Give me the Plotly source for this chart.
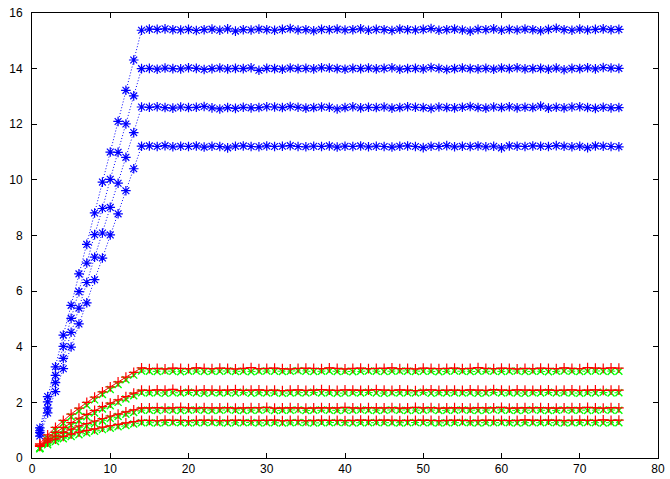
import plotly.graph_objects as go

# Sample index (1..75) shared by every series
steps = list(range(1, 76))

# Linear-growth runs that saturate at step 14
blue_a = [1.08, 2.21, 3.28, 4.42, 5.49, 6.62, 7.68, 8.81, 9.92, 11.00, 12.10, 13.22, 14.31, 15.38,
          15.42, 15.41, 15.43, 15.40, 15.39, 15.41, 15.37, 15.40, 15.42, 15.38,
          15.43, 15.35, 15.40, 15.39, 15.42, 15.40, 15.38, 15.41, 15.44, 15.39,
          15.40, 15.36, 15.41, 15.40, 15.42, 15.39, 15.40, 15.43, 15.38, 15.41,
          15.40, 15.37, 15.42, 15.40, 15.39, 15.41, 15.44, 15.38, 15.40, 15.42,
          15.39, 15.35, 15.41, 15.40, 15.43, 15.38, 15.41, 15.39, 15.42, 15.40,
          15.36, 15.41, 15.45, 15.40, 15.38, 15.42, 15.39, 15.41, 15.43, 15.40,
          15.41]
blue_b = [0.98, 2.02, 2.97, 4.01, 5.02, 5.98, 7.01, 8.03, 8.97, 10.02, 10.99, 12.01, 13.02, 14.00,
          14.01, 13.98, 14.02, 14.00, 13.99, 14.03, 14.01, 13.97, 14.00, 14.02,
          13.99, 14.01, 14.00, 14.03, 13.94, 14.01, 14.00, 13.98, 14.02, 14.00,
          14.01, 13.99, 14.03, 14.02, 14.00, 13.98, 14.01, 14.00, 14.02, 13.99,
          14.01, 14.03, 13.98, 14.00, 14.01, 13.99, 14.04, 14.01, 13.97, 14.00,
          14.02, 14.00, 13.99, 14.01, 13.98, 14.02, 14.00, 14.03, 13.99, 14.00,
          14.01, 13.98, 14.02, 13.96, 14.01, 14.00, 14.03, 13.99, 14.04, 14.02,
          14.01]
blue_c = [0.91, 1.79, 2.71, 3.58, 4.52, 5.39, 6.31, 7.22, 8.09, 9.01, 9.88, 10.81, 11.70, 12.62,
          12.61, 12.63, 12.60, 12.58, 12.62, 12.60, 12.61, 12.64, 12.59, 12.55,
          12.60, 12.57, 12.61, 12.59, 12.60, 12.63, 12.62, 12.60, 12.64, 12.61,
          12.58, 12.60, 12.62, 12.61, 12.55, 12.60, 12.63, 12.59, 12.61, 12.60,
          12.62, 12.58, 12.60, 12.63, 12.61, 12.60, 12.57, 12.62, 12.60, 12.59,
          12.61, 12.64, 12.60, 12.58, 12.62, 12.60, 12.63, 12.59, 12.61, 12.60,
          12.65, 12.58, 12.61, 12.59, 12.62, 12.63, 12.60, 12.57, 12.61, 12.59,
          12.60]
blue_d = [0.79, 1.62, 2.39, 3.21, 3.99, 4.82, 5.58, 6.41, 7.19, 8.02, 8.78, 9.61, 10.40, 11.21,
          11.22, 11.20, 11.23, 11.19, 11.21, 11.20, 11.22, 11.18, 11.21, 11.20,
          11.15, 11.21, 11.22, 11.20, 11.19, 11.22, 11.20, 11.21, 11.23, 11.20,
          11.19, 11.21, 11.20, 11.22, 11.18, 11.21, 11.20, 11.22, 11.19, 11.21,
          11.20, 11.18, 11.21, 11.22, 11.20, 11.16, 11.21, 11.20, 11.23, 11.19,
          11.21, 11.20, 11.22, 11.19, 11.21, 11.15, 11.22, 11.21, 11.20, 11.22,
          11.21, 11.20, 11.23, 11.21, 11.19, 11.21, 11.16, 11.22, 11.21, 11.20,
          11.19]

# Sub-linear runs (red: measured, green: model)
red_a = [0.51, 0.83, 1.10, 1.35, 1.58, 1.79, 2.00, 2.19, 2.38, 2.56, 2.74, 2.91, 3.08, 3.24,
         3.21, 3.22, 3.20, 3.23, 3.22, 3.21, 3.24, 3.22, 3.21, 3.23,
         3.22, 3.20, 3.22, 3.25, 3.21, 3.22, 3.23, 3.21, 3.20, 3.22,
         3.23, 3.22, 3.21, 3.24, 3.22, 3.20, 3.22, 3.23, 3.21, 3.22,
         3.22, 3.24, 3.21, 3.22, 3.20, 3.23, 3.22, 3.21, 3.22, 3.23,
         3.21, 3.22, 3.25, 3.22, 3.21, 3.23, 3.22, 3.20, 3.22, 3.21,
         3.23, 3.22, 3.21, 3.24, 3.22, 3.21, 3.25, 3.23, 3.22, 3.24,
         3.23]
green_a = [0.34, 0.72, 1.00, 1.25, 1.48, 1.69, 1.90, 2.09, 2.28, 2.46, 2.64, 2.81, 2.98, 3.13,
           3.12, 3.11, 3.13, 3.12, 3.10, 3.12, 3.13, 3.11, 3.12, 3.12,
           3.13, 3.11, 3.12, 3.10, 3.12, 3.13, 3.12, 3.11, 3.12, 3.14,
           3.12, 3.11, 3.12, 3.13, 3.11, 3.12, 3.10, 3.12, 3.13, 3.12,
           3.11, 3.12, 3.13, 3.12, 3.11, 3.12, 3.12, 3.10, 3.12, 3.13,
           3.12, 3.11, 3.12, 3.13, 3.12, 3.11, 3.12, 3.13, 3.11, 3.12,
           3.12, 3.10, 3.12, 3.13, 3.12, 3.11, 3.12, 3.13, 3.12, 3.11,
           3.12]
red_b = [0.46, 0.71, 0.92, 1.10, 1.27, 1.43, 1.57, 1.71, 1.85, 1.97, 2.09, 2.21, 2.33, 2.44,
         2.43, 2.45, 2.44, 2.47, 2.42, 2.44, 2.43, 2.45, 2.44, 2.43,
         2.44, 2.46, 2.43, 2.44, 2.45, 2.43, 2.44, 2.42, 2.44, 2.45,
         2.43, 2.44, 2.46, 2.44, 2.43, 2.45, 2.44, 2.43, 2.44, 2.46,
         2.44, 2.43, 2.45, 2.44, 2.42, 2.44, 2.45, 2.43, 2.44, 2.44,
         2.43, 2.45, 2.44, 2.43, 2.46, 2.44, 2.43, 2.45, 2.44, 2.43,
         2.44, 2.45, 2.43, 2.44, 2.45, 2.43, 2.44, 2.45, 2.43, 2.44,
         2.44]
green_b = [0.36, 0.62, 0.83, 1.01, 1.18, 1.34, 1.48, 1.62, 1.76, 1.88, 2.00, 2.12, 2.24, 2.35,
           2.34, 2.35, 2.33, 2.35, 2.34, 2.36, 2.34, 2.33, 2.35, 2.34,
           2.35, 2.34, 2.36, 2.33, 2.35, 2.34, 2.35, 2.33, 2.34, 2.35,
           2.34, 2.36, 2.34, 2.35, 2.33, 2.34, 2.35, 2.34, 2.36, 2.34,
           2.33, 2.35, 2.34, 2.35, 2.34, 2.36, 2.33, 2.35, 2.34, 2.35,
           2.34, 2.35, 2.33, 2.34, 2.36, 2.34, 2.35, 2.34, 2.33, 2.35,
           2.34, 2.36, 2.34, 2.35, 2.34, 2.33, 2.35, 2.34, 2.36, 2.34,
           2.35]
red_c = [0.44, 0.64, 0.79, 0.92, 1.04, 1.15, 1.24, 1.33, 1.42, 1.51, 1.58, 1.66, 1.73, 1.80,
         1.80, 1.81, 1.79, 1.80, 1.82, 1.80, 1.79, 1.81, 1.80, 1.80,
         1.81, 1.79, 1.80, 1.81, 1.80, 1.82, 1.79, 1.80, 1.81, 1.80,
         1.79, 1.80, 1.81, 1.80, 1.80, 1.82, 1.80, 1.79, 1.81, 1.80,
         1.80, 1.81, 1.79, 1.80, 1.82, 1.80, 1.81, 1.79, 1.80, 1.81,
         1.80, 1.79, 1.81, 1.80, 1.80, 1.82, 1.79, 1.80, 1.81, 1.80,
         1.81, 1.80, 1.79, 1.80, 1.81, 1.80, 1.82, 1.80, 1.79, 1.81,
         1.80]
green_c = [0.35, 0.55, 0.70, 0.83, 0.95, 1.06, 1.15, 1.24, 1.33, 1.42, 1.49, 1.57, 1.64, 1.72,
           1.72, 1.71, 1.73, 1.72, 1.71, 1.72, 1.73, 1.72, 1.71, 1.72,
           1.73, 1.72, 1.71, 1.72, 1.72, 1.73, 1.71, 1.72, 1.72, 1.73,
           1.71, 1.72, 1.73, 1.72, 1.71, 1.72, 1.72, 1.73, 1.72, 1.71,
           1.72, 1.73, 1.72, 1.71, 1.72, 1.72, 1.73, 1.71, 1.72, 1.72,
           1.73, 1.72, 1.71, 1.72, 1.73, 1.72, 1.72, 1.71, 1.72, 1.73,
           1.72, 1.71, 1.72, 1.73, 1.72, 1.72, 1.71, 1.72, 1.73, 1.72,
           1.72]
red_d = [0.42, 0.57, 0.68, 0.78, 0.86, 0.93, 0.99, 1.05, 1.11, 1.16, 1.21, 1.26, 1.31, 1.35,
         1.35, 1.34, 1.36, 1.35, 1.35, 1.34, 1.35, 1.36, 1.35, 1.34,
         1.35, 1.36, 1.35, 1.34, 1.35, 1.35, 1.36, 1.34, 1.35, 1.35,
         1.34, 1.35, 1.36, 1.35, 1.35, 1.34, 1.35, 1.36, 1.35, 1.35,
         1.36, 1.35, 1.34, 1.35, 1.35, 1.36, 1.35, 1.34, 1.35, 1.36,
         1.35, 1.34, 1.35, 1.36, 1.35, 1.35, 1.34, 1.35, 1.37, 1.35,
         1.35, 1.36, 1.35, 1.34, 1.35, 1.36, 1.35, 1.35, 1.37, 1.35,
         1.36]
green_d = [0.33, 0.48, 0.59, 0.69, 0.77, 0.84, 0.90, 0.96, 1.02, 1.07, 1.12, 1.17, 1.22, 1.27,
           1.27, 1.26, 1.27, 1.28, 1.27, 1.26, 1.27, 1.27, 1.28, 1.27,
           1.26, 1.27, 1.27, 1.28, 1.26, 1.27, 1.27, 1.26, 1.27, 1.28,
           1.27, 1.26, 1.27, 1.27, 1.28, 1.27, 1.26, 1.27, 1.27, 1.28,
           1.27, 1.27, 1.26, 1.27, 1.28, 1.27, 1.27, 1.26, 1.27, 1.27,
           1.28, 1.27, 1.26, 1.27, 1.27, 1.28, 1.27, 1.26, 1.27, 1.27,
           1.27, 1.28, 1.27, 1.26, 1.27, 1.27, 1.28, 1.27, 1.26, 1.27,
           1.27]

x_ticks = [0, 10, 20, 30, 40, 50, 60, 70, 80]
y_ticks = [0, 2, 4, 6, 8, 10, 12, 14, 16]

fig = go.Figure()

for ys in (blue_a, blue_b, blue_c, blue_d):
    fig.add_trace(go.Scatter(
        x=steps, y=ys, mode="lines+markers",
        line=dict(color="#0000ff", width=1, dash="1px,2px"),
        marker=dict(symbol="asterisk-open", size=8, color="#0000ff",
                    line=dict(color="#0000ff", width=1.2)),
        showlegend=False))

for ys in (green_a, green_b, green_c, green_d):
    fig.add_trace(go.Scatter(
        x=steps, y=ys, mode="lines+markers",
        line=dict(color="#00ff00", width=1, dash="3px,2px"),
        marker=dict(symbol="x-thin-open", size=7, color="#00ff00",
                    line=dict(color="#00ff00", width=1.4)),
        showlegend=False))

for ys in (red_a, red_b, red_c, red_d):
    fig.add_trace(go.Scatter(
        x=steps, y=ys, mode="lines+markers",
        line=dict(color="#ff0000", width=1),
        marker=dict(symbol="cross-thin-open", size=7, color="#ff0000",
                    line=dict(color="#ff0000", width=1.2)),
        showlegend=False))

axis_common = dict(
    showgrid=False, zeroline=False, showline=True, linecolor="black", linewidth=1,
    mirror="allticks", ticks="inside", ticklen=5, tickcolor="black", tickwidth=1,
    automargin=False,
    tickfont=dict(family="Liberation Sans, Arial, sans-serif", size=12, color="black"),
)

fig.update_xaxes(range=[0, 80], tickvals=x_ticks, **axis_common)
fig.update_yaxes(range=[0, 16], tickvals=y_ticks, ticklabelstandoff=6, **axis_common)

fig.update_layout(
    width=670, height=479,
    margin=dict(l=32, r=12, t=13, b=21),
    paper_bgcolor="white", plot_bgcolor="white",
)

fig.write_html("out.html")
